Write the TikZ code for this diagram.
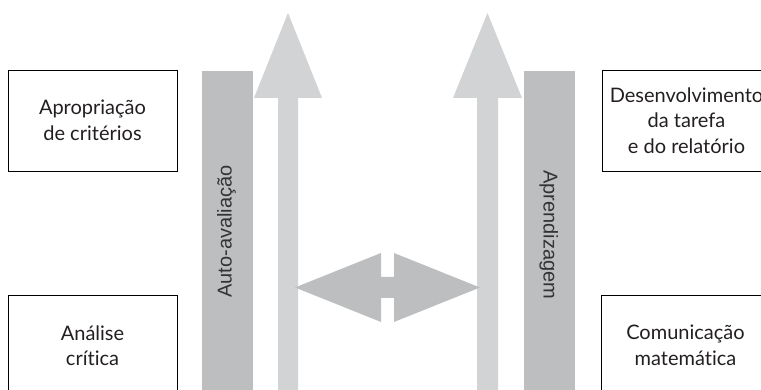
\documentclass[tikz,border=0pt]{standalone}
\usepackage{fontspec}
\setmainfont{Lato}[Ligatures={NoCommon,NoRare}]
\newfontfamily\barfont{Liberation Sans}
\definecolor{barcol}{HTML}{BCBEC0}
\definecolor{arrowcol}{HTML}{D1D3D4}
\definecolor{boxtext}{HTML}{231F20}
\definecolor{bartext}{HTML}{333333}
\begin{document}
\begin{tikzpicture}[x=1pt,y=1pt,
  infobox/.style={draw=black, line width=0.8pt, minimum width=169pt, minimum height=101pt,
    align=center, font=\fontsize{20}{25.5}\selectfont, text=boxtext, inner sep=0pt},
  barbox/.style={fill=barcol, draw=none, minimum width=51pt, minimum height=319pt, inner sep=0pt},
  bartextstyle/.style={text=bartext, inner sep=0pt, anchor=base west, font=\barfont\fontsize{20}{22}\selectfont}
]
\useasboundingbox (0,0) rectangle (761,390);
\clip (0,0) rectangle (761,390);

% side boxes
\node[infobox] (apr) at (92.5,269.5) {Apropriação\\de critérios};
\node[infobox] (des) at (686.5,269.5) {Desenvolvimento\\da tarefa\\e do relatório};
\node[infobox] (ana) at (92.5,44.5) {Análise\\crítica};
\node[infobox] (com) at (685.5,44.5) {Comunicação\\matemática};

% dark bars
\node[barbox] (lbar) at (227.5,159.5) {};
\node[barbox] (rbar) at (549.5,159.5) {};
\node[bartextstyle, rotate=90] (ltext) at (231.5,92) {Auto-avaliação};
\node[bartextstyle, rotate=-90] (rtext) at (543.5,220) {Aprendizagem};

% vertical arrows
\fill[arrowcol] (278,0) -- (278,292) -- (254,292) -- (288,377) -- (322,292) -- (298,292) -- (298,0) -- cycle;
\fill[arrowcol] (477,0) -- (477,292) -- (453,292) -- (487.5,377) -- (522,292) -- (498,292) -- (498,0) -- cycle;

% double arrow
\fill[barcol] (295,102.5) -- (381,137) -- (381,113) -- (394,113) -- (394,137) -- (480,102.5)
  -- (394,68) -- (394,92) -- (381,92) -- (381,68) -- cycle;
\end{tikzpicture}
\end{document}
